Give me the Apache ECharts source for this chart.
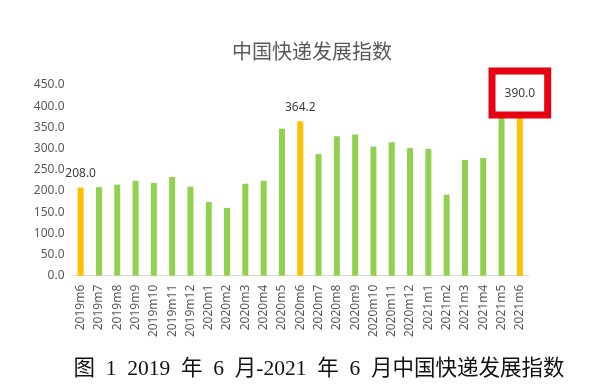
<!DOCTYPE html>
<html><head><meta charset="utf-8">
<script src="https://cdn.jsdelivr.net/npm/echarts@6/dist/echarts.min.js"></script>
<style>html,body{margin:0;padding:0;background:#fff}#c{width:590px;height:389px}</style>
</head><body><div id="c"></div>
<script>
const months = ['2019m6','2019m7','2019m8','2019m9','2019m10','2019m11','2019m12','2020m1','2020m2','2020m3','2020m4','2020m5','2020m6','2020m7','2020m8','2020m9','2020m10','2020m11','2020m12','2021m1','2021m2','2021m3','2021m4','2021m5','2021m6'];
const indexValues = [208.0,209,215,224,219,233,210,174,160,217,224,347,364.2,287,329,333,305,315,301,299,191,273,278,374,390.0];
const highlighted = ['2019m6','2020m6','2021m6'];
const boxed = ['2021m6'];
const yTicks = [0,50,100,150,200,250,300,350,400,450];
const chartTitle = '中国快递发展指数';
const caption = '图  1  2019  年  6  月-2021  年  6  月中国快递发展指数';

const GREEN = '#92d050', YELLOW = '#ffc000';
const data = months.map((m, i) => {
  const item = { value: indexValues[i] };
  if (highlighted.includes(m)) {
    item.itemStyle = { color: YELLOW };
    item.label = { show: true };
    if (boxed.includes(m)) {
      item.label = {
        show: true, borderColor: '#e60012', borderWidth: 7,
        backgroundColor: '#fff', padding: [13, 9, 12, 9], distance: -1
      };
    }
  }
  return item;
});

const chart = echarts.init(document.getElementById('c'), null, { renderer: 'canvas' });
chart.setOption({
  backgroundColor: '#fff',
  animation: false,
  title: [
    { text: chartTitle, left: 307, top: 36, textAlign: 'center',
      textStyle: { fontFamily: 'Noto Sans CJK SC', fontSize: 20, fontWeight: 'normal', color: '#595959' } },
    { text: caption, left: 314, top: 354, textAlign: 'center',
      textStyle: { fontFamily: '"Liberation Serif","Noto Sans CJK SC"', fontSize: 21.5, fontWeight: 'normal', color: '#111' } }
  ],
  grid: { left: 71.5, right: 61, top: 85, bottom: 113.3 },
  xAxis: {
    type: 'category', data: months,
    axisTick: { show: false },
    axisLine: { lineStyle: { color: '#d9d9d9' } },
    axisLabel: { rotate: 90, interval: 0, fontSize: 12, color: '#595959', margin: 9, fontFamily: 'Noto Sans' }
  },
  yAxis: {
    type: 'value', min: yTicks[0], max: yTicks[yTicks.length - 1], interval: yTicks[1] - yTicks[0],
    splitLine: { show: false },
    axisLine: { show: false }, axisTick: { show: false },
    axisLabel: { formatter: v => v.toFixed(1), fontSize: 12, color: '#595959', margin: 7, fontFamily: 'Noto Sans' }
  },
  series: [{
    type: 'bar', data, barWidth: 6,
    itemStyle: { color: GREEN },
    label: { show: false, position: 'top', distance: 8, formatter: p => p.value.toFixed(1),
      fontSize: 12, color: '#404040', fontFamily: 'Noto Sans' }
  }]
});
</script></body></html>
